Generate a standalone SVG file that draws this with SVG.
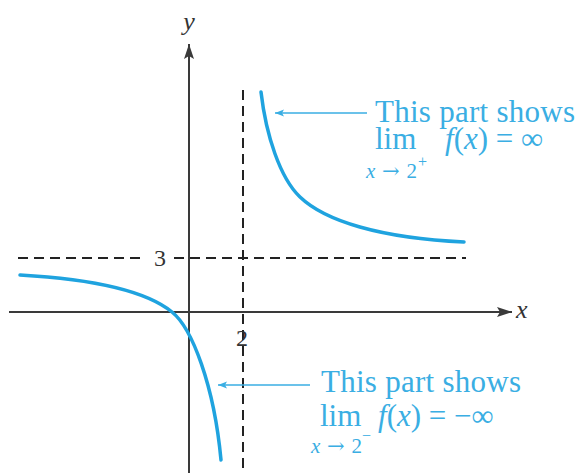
<svg xmlns="http://www.w3.org/2000/svg" width="580" height="473" viewBox="0 0 580 473">
<style>
.axis{stroke:#3a3a3a;stroke-width:2;fill:none}
.dash{stroke:#222;stroke-width:2;stroke-dasharray:10 6;fill:none}
.curve{stroke:#1fa3df;stroke-width:3.5;fill:none;stroke-linecap:round}
.pointer{stroke:#3aaee3;stroke-width:1.5;fill:none}
.lbl{font-family:"Liberation Serif",serif;fill:#333}
.ital{font-style:italic}
.note{font-family:"Liberation Serif",serif;fill:#3aaee3;font-size:31px}
.note.sub{font-size:21px}
.note.sup{font-size:16px}
.arr{font-family:"DejaVu Serif",serif}
</style>
<defs>
<marker id="axhead" markerWidth="16" markerHeight="10" refX="15" refY="5" orient="auto" markerUnits="userSpaceOnUse">
<path d="M0,0 L15,5 L0,10 L3,5 Z" fill="#3a3a3a"/>
</marker>
<marker id="ptrhead" markerWidth="10" markerHeight="8" refX="9" refY="4" orient="auto" markerUnits="userSpaceOnUse">
<path d="M0,0.5 L9,4 L0,7.5 L2,4 Z" fill="#3aaee3"/>
</marker>
</defs>
<g id="asymptotes">
<line class="dash" x1="243" y1="90" x2="243" y2="473"/>
<line class="dash" x1="18" y1="258" x2="142" y2="258"/>
<line class="dash" x1="174" y1="258" x2="466" y2="258"/>
</g>
<g id="axes">
<line class="axis" x1="9" y1="312" x2="512" y2="312" marker-end="url(#axhead)"/>
<line class="axis" x1="189" y1="473" x2="189" y2="44" marker-end="url(#axhead)"/>
<text class="lbl ital" x="516" y="318" font-size="26">x</text>
<text class="lbl ital" x="189" y="30" font-size="26" text-anchor="middle">y</text>
<text class="lbl" x="160" y="266" font-size="24" text-anchor="middle">3</text>
<text class="lbl" x="242" y="346" font-size="24" text-anchor="middle">2</text>
</g>
<g id="right-branch">
<path class="curve" d="M261,92 C266,135 280,178 300,197 C325,221 380,238 464,242"/>
</g>
<g id="left-branch">
<path class="curve" d="M20,275 C90,279 145,290 172,312 C192,328 214,385 221,460"/>
</g>
<g id="connectors">
<line class="pointer" x1="367" y1="113" x2="275" y2="113" marker-end="url(#ptrhead)"/>
<line class="pointer" x1="310" y1="385" x2="218" y2="385" marker-end="url(#ptrhead)"/>
</g>
<g id="note-top">
<text class="note" x="375" y="122" textLength="200">This part shows</text>
<text class="note" x="375" y="149">lim</text>
<text class="note" x="445" y="149"><tspan class="ital">f</tspan>(<tspan class="ital">x</tspan>) = ∞</text>
<text class="note sub" x="366" y="178" textLength="51" lengthAdjust="spacing"><tspan class="ital">x</tspan><tspan class="arr">→</tspan>2</text>
<text class="note sup" x="418" y="167">+</text>
</g>
<g id="note-bottom">
<text class="note" x="321" y="392" textLength="200">This part shows</text>
<text class="note" x="320" y="426">lim</text>
<text class="note" x="378" y="426"><tspan class="ital">f</tspan>(<tspan class="ital">x</tspan>) = −∞</text>
<text class="note sub" x="311" y="453" textLength="51" lengthAdjust="spacing"><tspan class="ital">x</tspan><tspan class="arr">→</tspan>2</text>
<text class="note sup" x="362" y="441">−</text>
</g>
</svg>
